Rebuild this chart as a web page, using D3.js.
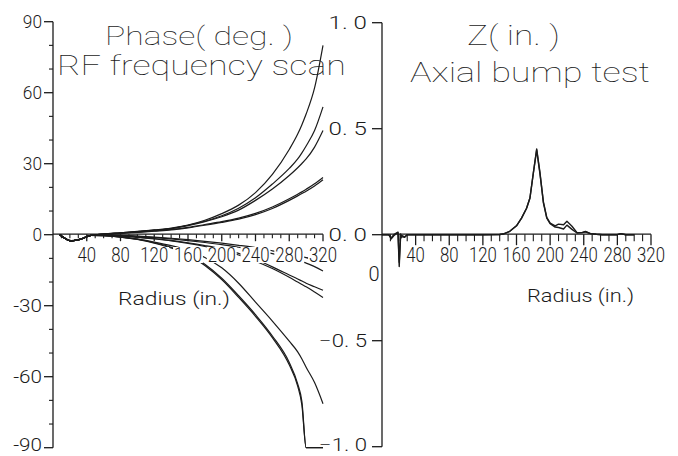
<!DOCTYPE html>
<html><head><meta charset="utf-8">
<script src="https://cdn.jsdelivr.net/npm/d3@7"></script>
<style>
html,body{margin:0;padding:0;background:#fff;}
svg{display:block;}
</style></head><body>
<svg id="chart" width="678" height="456"></svg>
<script>
// ---- Phase panel: RF frequency scan -------------------------------------
// radius grid (in.) shared by every phase trace
const phaseRadius = [8, 22, 32, 45, 60, 80, 100, 120, 140, 160, 180, 200, 220, 240, 260, 280, 290, 295, 300, 310, 320];
// phase (deg.) traces
const phaseP1  = [0, -2.6, -2.0, -0.3, 0.3, 0.8, 1.4, 2.0, 2.8, 4.1, 6.1, 8.9, 12.5, 17.8, 25.5, 36, 42.5, 46.5, 51, 62, 80];
const phaseP2  = [0, -2.6, -2.0, -0.3, 0.3, 0.8, 1.3, 1.9, 2.6, 4.0, 5.7, 8.0, 11.2, 15.6, 21.4, 28, 32, 34.6, 37.5, 44, 54];
const phaseP3  = [0, -2.6, -2.0, -0.3, 0.3, 0.7, 1.2, 1.8, 2.5, 3.8, 5.5, 7.6, 10.4, 14.5, 19.3, 25, 28.3, 30.1, 32, 37, 44];
const phaseP4a = [0, -2.6, -2.0, -0.3, 0.3, 0.7, 1.1, 1.6, 2.2, 3.1, 4.3, 5.5, 7.0, 9.0, 11.7, 15.2, 17.1, 18.1, 19.2, 21.5, 24.2];
const phaseP4b = [0, -2.5, -1.9, -0.3, 0.2, 0.6, 1.0, 1.5, 2.0, 2.9, 4.0, 5.2, 6.6, 8.5, 11.1, 14.5, 16.4, 17.4, 18.4, 20.6, 23.2];
const phaseN1a = [0, -2.6, -2.0, -0.3, -0.4, -1.0, -2.0, -3.6, -5.6, -8.5, -13.0, -19.0, -26.5, -34.5, -43.5, -55, -64, -72, -90, -90, -90];
const phaseN1b = [0, -2.5, -1.9, -0.3, -0.4, -0.9, -1.9, -3.4, -5.3, -8.1, -12.5, -18.4, -25.8, -33.8, -42.8, -54, -63, -70.5, -90, -90, -90];
const phaseN2  = [0, -2.6, -2.0, -0.3, -0.4, -1.0, -1.9, -3.1, -4.6, -6.6, -9.6, -14.0, -20.5, -28.5, -36.5, -45, -49.5, -52.5, -56, -62.5, -71.4];
const phaseN3a = [0, -2.6, -2.0, -0.3, -0.2, -0.5, -1.0, -1.6, -2.4, -3.4, -4.6, -6.0, -7.9, -10.5, -13.6, -17.0, -18.7, -19.6, -20.5, -22, -23.5];
const phaseN3b = [0, -2.6, -2.0, -0.3, -0.2, -0.5, -1.1, -1.8, -2.6, -3.7, -5.0, -6.6, -8.6, -11.2, -14.3, -18.0, -20, -21, -22, -24.2, -26.5];
const phaseN4  = [0, -2.6, -2.0, -0.3, -0.1, -0.3, -0.6, -1.0, -1.5, -2.1, -2.8, -3.6, -4.5, -5.5, -6.8, -8.2, -8.9, -9.3, -9.7, -10.4, -11.2];
const phaseN5  = [0, -2.6, -2.0, -0.3, -0.1, -0.3, -0.7, -1.2, -1.8, -2.5, -3.3, -4.2, -5.3, -6.5, -8.0, -9.8, -10.9, -11.5, -12.0, -13.5, -15.3];
const phaseTraces = [phaseP1, phaseP2, phaseP3, phaseP4a, phaseP4b, phaseN1a, phaseN1b, phaseN2, phaseN3a, phaseN3b, phaseN4, phaseN5];
const phaseTicks = [-90, -60, -30, 0, 30, 60, 90];

// ---- Z panel: axial bump test -------------------------------------------
const zRadius = [0, 8, 11, 14, 17, 19, 20.5, 22, 24, 27, 30, 40, 80, 120, 140, 144, 152, 160, 166, 172, 176, 180, 184, 188, 192, 196, 200, 206, 210, 216, 220, 226, 232, 238, 242, 248, 255, 262, 270, 280, 284, 290, 300];
const zRun1 = [0, 0, -0.02, -0.005, 0.005, 0.01, -0.15, 0.004, -0.01, -0.012, 0, 0, 0, 0, 0.001, 0.003, 0.016, 0.042, 0.078, 0.125, 0.173, 0.29, 0.404, 0.29, 0.15, 0.078, 0.052, 0.036, 0.034, 0.027, 0.045, 0.025, 0.008, 0.01, 0.015, 0.005, 0.002, 0, 0, 0, 0.005, 0, 0];
const zRun2 = [0, 0, -0.015, 0, 0.008, 0.012, -0.13, -0.02, -0.005, -0.01, 0, 0, 0, 0, 0.001, 0.003, 0.016, 0.042, 0.078, 0.125, 0.173, 0.29, 0.40, 0.285, 0.155, 0.082, 0.055, 0.042, 0.05, 0.047, 0.063, 0.04, 0.01, 0.01, 0.014, 0.005, 0.002, 0, 0, 0, 0.005, 0, 0];
const zTraces = [zRun1, zRun2];
const zTicks = [-1.0, -0.5, 0.0, 0.5, 1.0];

// shared radius axis
const radiusMajor = [40, 80, 120, 160, 200, 240, 280, 320];
const radiusMinor = d3.range(10, 321, 10).filter(v => v % 40 !== 0);

const INK = "#1b1b1b";
const PLOT_FONT = "Roboto, 'DejaVu Sans', sans-serif";
const svg = d3.select("#chart");

// horizontal and vertical scales
const xL = d3.scaleLinear().domain([0, 320]).range([53, 323]);
const xR = d3.scaleLinear().domain([0, 320]).range([382, 651]);
const yL = d3.scaleLinear().domain([-90, 90]).range([447.7, 21.7]);
const yR = d3.scaleLinear().domain([-1, 1]).range([446.7, 22.7]);

function plotText(g, str, x, y, size, opts = {}) {
  const t = g.append("text")
    .attr("x", x).attr("y", y)
    .attr("font-family", opts.family || PLOT_FONT)
    .attr("font-weight", opts.weight || 300)
    .attr("font-size", size)
    .attr("fill", INK)
    .attr("text-anchor", opts.anchor || "start")
    .text(str);
  if (opts.len) t.attr("textLength", opts.len).attr("lengthAdjust", "spacingAndGlyphs");
  return t;
}

// ---- titles (drawn first so traces pass over them) ----
plotText(svg, "Phase( deg. )", 105, 45, 26, {len: 188, weight: 100});
plotText(svg, "RF frequency scan", 57, 75, 28, {len: 289, weight: 100});
plotText(svg, "Z( in. )", 467, 45, 27, {len: 93, weight: 100});
plotText(svg, "Axial bump test", 410, 82, 28, {len: 240, weight: 100});

// ---- vertical axes ----
function verticalAxis(y, x0, ticks, minor, majorLen, fmt, labelRight, labelSize) {
  const g = svg.append("g").attr("transform", `translate(${x0},0)`);
  g.append("line").attr("x1", 0).attr("x2", 0)
    .attr("y1", y.range()[1]).attr("y2", y.range()[0])
    .attr("stroke", INK).attr("stroke-width", 1.3);
  g.selectAll("line.maj").data(ticks).join("line").attr("class", "maj")
    .attr("x1", -majorLen).attr("x2", 0)
    .attr("y1", d => y(d)).attr("y2", d => y(d))
    .attr("stroke", INK).attr("stroke-width", 1.3);
  g.selectAll("line.min").data(minor).join("line").attr("class", "min")
    .attr("x1", -4).attr("x2", 0)
    .attr("y1", d => y(d)).attr("y2", d => y(d))
    .attr("stroke", INK).attr("stroke-width", 1.1);
  ticks.forEach(d => {
    const s = fmt(d);
    // keep the lowest label inside the page
    const base = Math.min(y(d) + 6, 450.5);
    plotText(g, s, labelRight - x0, base, labelSize, {anchor: "end", len: s.length * 9.6, weight: 300});
  });
}

const phaseMinor = d3.range(-80, 90, 10).filter(v => v % 30 !== 0);
verticalAxis(yL, 53, phaseTicks, phaseMinor, 9, d => String(d), 42, 19);
verticalAxis(yR, 382, zTicks, [], 10, d => d3.format(".1f")(d).replace(".", ". "), 367, 19);

// ---- traces ----
const phaseLine = d3.line().curve(d3.curveMonotoneX)
  .x((d, i) => xL(phaseRadius[i])).y(d => yL(d));
svg.append("g").selectAll("path").data(phaseTraces).join("path")
  .attr("d", phaseLine)
  .attr("fill", "none").attr("stroke", INK).attr("stroke-width", 1.2)
  .attr("stroke-linejoin", "round");

const zLine = d3.line().curve(d3.curveLinear)
  .x((d, i) => xR(zRadius[i])).y(d => yR(d));
svg.append("g").selectAll("path").data(zTraces).join("path")
  .attr("d", zLine)
  .attr("fill", "none").attr("stroke", INK).attr("stroke-width", 1.4)
  .attr("stroke-linejoin", "round");

// ---- radius axes (labels sit on white patches, masking traces behind) ----
function radiusAxis(x, y0, majLen, minLen) {
  const g = svg.append("g");
  g.append("line").attr("x1", x(0)).attr("x2", x(320))
    .attr("y1", y0).attr("y2", y0).attr("stroke", INK).attr("stroke-width", 1.3);
  g.selectAll("line.min").data(radiusMinor).join("line").attr("class", "min")
    .attr("x1", d => x(d)).attr("x2", d => x(d))
    .attr("y1", y0).attr("y2", y0 + minLen)
    .attr("stroke", INK).attr("stroke-width", 1.1);
  g.selectAll("line.maj").data(radiusMajor).join("line").attr("class", "maj")
    .attr("x1", d => x(d)).attr("x2", d => x(d))
    .attr("y1", y0).attr("y2", y0 + majLen)
    .attr("stroke", INK).attr("stroke-width", 1.3);
  radiusMajor.forEach(d => {
    const s = String(d), w = s.length * 9.3;
    g.append("rect").attr("x", x(d) - w / 2 - 1).attr("y", 247)
      .attr("width", w + 2).attr("height", 16).attr("fill", "#fff");
    plotText(g, s, x(d), 262, 20, {anchor: "middle", len: w, weight: 300});
  });
  return g;
}
radiusAxis(xL, 234.2, 7, 4);
const gR = radiusAxis(xR, 234.2, 11, 7);
plotText(gR, "0", xR(0) - 8, 281, 20, {anchor: "middle", weight: 300});

plotText(svg, "Radius (in.)", 118, 305, 19, {weight: 300, len: 112});
plotText(svg, "Radius (in.)", 527, 302, 19, {weight: 300, len: 107});
</script>
</body></html>
